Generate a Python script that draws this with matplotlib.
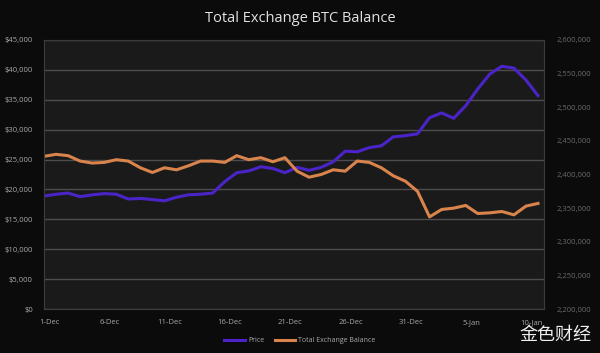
import numpy as np
import matplotlib
matplotlib.use('Agg')
import matplotlib.pyplot as plt
from matplotlib.ticker import FuncFormatter

plt.rcParams['font.family'] = ['Open Sans', 'DejaVu Sans']

# daily data 1-Dec .. 11-Jan
days = np.arange(42)
price = [18900, 19200, 19400, 18800, 19100, 19300, 19200, 18400, 18500, 18300,
         18100, 18700, 19100, 19200, 19400, 21300, 22800, 23100, 23800, 23500,
         22800, 23700, 23200, 23700, 24600, 26400, 26300, 27000, 27300, 28800,
         29000, 29300, 32000, 32800, 31900, 34000, 36800, 39300, 40600, 40300,
         38300, 35700]
balance = [2427000, 2430000, 2428000, 2420000, 2417000, 2418000, 2422000, 2420000,
           2410000, 2403000, 2410000, 2407000, 2413000, 2420000, 2420000, 2418000,
           2428000, 2422000, 2425000, 2419000, 2425000, 2405000, 2396000, 2400000,
           2407000, 2405000, 2420000, 2418000, 2410000, 2398000, 2390000, 2375000,
           2337000, 2348000, 2350000, 2354000, 2342000, 2343000, 2345000, 2340000,
           2353000, 2357000]
tick_days = [0, 5, 10, 15, 20, 25, 30, 35, 40]
tick_labels = ['1-Dec', '6-Dec', '11-Dec', '16-Dec', '21-Dec', '26-Dec', '31-Dec', '5-Jan', '10-Jan']

price_color = '#4a24c8'
bal_color = '#d8844c'

fig = plt.figure(figsize=(6, 3.53), dpi=100, facecolor='#0c0b0b')
ax = fig.add_axes([0.0733, 0.1246, 0.8334, 0.7621], facecolor='#1b1a1a')
ax2 = ax.twinx()

ax.plot(days, price, color=price_color, lw=2.2, solid_joinstyle='round', label='Price', zorder=3)
ax2.plot(days, balance, color=bal_color, lw=2.2, solid_joinstyle='round', label='Total Exchange Balance')

ax.set_xlim(0, 41.5)
ax.set_ylim(0, 45000)
ax.set_yticks(np.arange(0, 45001, 5000))
ax.yaxis.set_major_formatter(FuncFormatter(lambda v, p: '${:,.0f}'.format(v)))
ax2.set_ylim(2200000, 2600000)
ax2.set_yticks(np.arange(2200000, 2600001, 50000))
ax2.yaxis.set_major_formatter(FuncFormatter(lambda v, p: '{:,.0f}'.format(v)))

# labels sit a little right of the category points (ticks are hidden)
ax.set_xticks([d + 0.45 for d in tick_days])
ax.set_xticklabels(tick_labels)
ax.grid(axis='y', color='#4e4c4c', lw=1)
ax.set_axisbelow(True)

for a in (ax, ax2):
    a.tick_params(length=0, labelsize=5.5)
    for s in a.spines.values():
        s.set_color('#3c3a3a')
        s.set_linewidth(0.8)
ax.tick_params(axis='y', colors='#a8a8a8', pad=8)
ax.tick_params(axis='x', colors='#a8a8a8', pad=7)
ax2.tick_params(axis='y', colors='#6a6a6a', pad=9)

fig.text(0.5, 0.948, 'Total Exchange BTC Balance', ha='center', va='center',
         color='#e2e2e2', fontsize=10.5)

h1, l1 = ax.get_legend_handles_labels()
h2, l2 = ax2.get_legend_handles_labels()
fig.legend(h1 + h2, l1 + l2, loc='center', bbox_to_anchor=(0.5, 0.035), ncol=2,
           frameon=False, fontsize=5, labelcolor='#a8a8a8', handlelength=3,
           columnspacing=1.5, handletextpad=0.4)

fig.text(0.985, 0.05, '金色财经', ha='right', va='center', color='#f0f0f0',
         fontsize=13, family=['Noto Sans CJK SC', 'DejaVu Sans'])

fig.savefig('out.png', dpi=100, facecolor=fig.get_facecolor())
